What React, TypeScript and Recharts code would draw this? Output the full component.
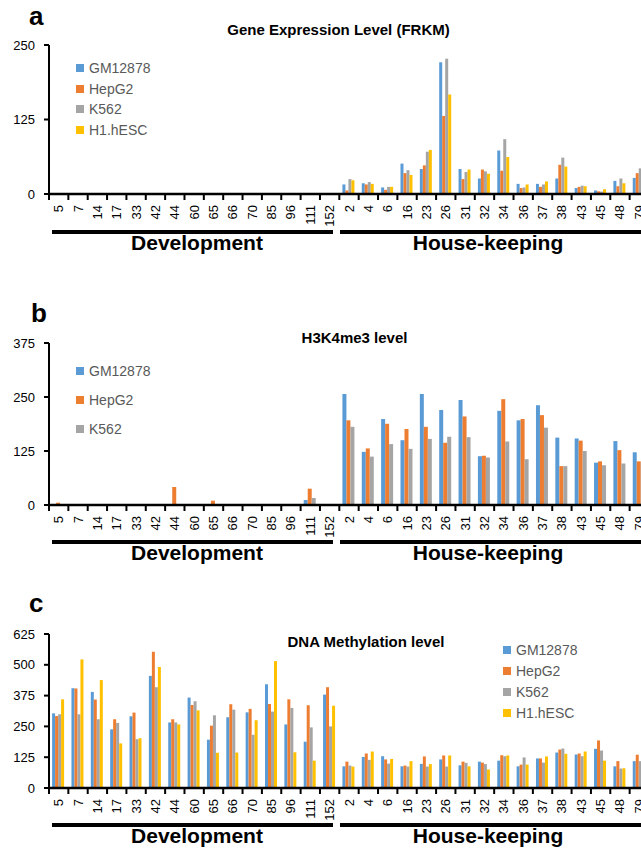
import React from 'react';
import { BarChart, Bar, XAxis, YAxis, Legend } from 'recharts';

// genes: first 15 are development genes, the rest house-keeping
const genes = ['5', '7', '14', '17', '33', '42', '44', '60', '65', '66', '70', '85', '96', '111', '152',
  '2', '4', '6', '16', '23', '26', '31', '32', '34', '36', '37', '38', '43', '45', '48', '79'];

// a: gene expression (FRKM)
const exprGM12878 = [0, 0, 0, 0, 0, 0, 0, 0, 0, 0, 0, 0, 0, 0, 0,
  16, 18, 11, 51, 42, 221, 42, 26, 73, 17, 17, 26, 10, 6, 22, 27];
const exprHepG2 = [0, 0, 0, 0, 0, 0, 0, 0, 0, 0, 0, 0, 0, 0, 0,
  6, 16, 7, 35, 48, 131, 25, 41, 39, 10, 12, 49, 12, 4.5, 13, 35];
const exprK562 = [0, 0, 0, 0, 0, 0, 0, 0, 0, 0, 0, 0, 0, 0, 0,
  25, 20, 12, 40, 71, 227, 37, 38, 92, 11, 16, 61, 14, 4, 26, 43];
const exprH1 = [0, 0, 0, 1, 0, 0, 1.5, 0, 0, 0, 0, 0, 0, 0, 0,
  23, 17, 12, 32, 74, 167, 41, 34, 62, 16, 21, 46, 13, 8, 18, 40];

// b: H3K4me3 level
const h3GM12878 = [0, 0, 0, 0, 0, 0, 0, 0, 0, 0, 0, 0, 0, 11.6, 0,
  257, 123, 199, 150, 257, 220, 243, 113, 218, 196, 231, 156, 154, 98, 148, 122];
const h3HepG2 = [5.4, 0, 0, 0, 0, 0, 41.7, 0, 10, 0, 0, 0, 0, 37.8, 0,
  196, 131, 188, 176, 181, 144, 205, 114, 245, 199, 208, 90, 149, 101, 127, 101];
const h3K562 = [0, 0, 0, 1.5, 0, 0, 0, 0, 0, 0, 0, 0, 0, 16.2, 0,
  181, 112, 141, 130, 153, 158, 157, 110, 147, 106, 179, 90, 125, 92, 96, 99];

// c: DNA methylation level
const methGM12878 = [303, 405, 390, 238, 291, 455, 266, 367, 196, 287, 307, 421, 258, 188, 379,
  88, 126, 129, 88, 98, 116, 92, 107, 111, 88, 120, 144, 136, 159, 88, 109];
const methHepG2 = [292, 404, 359, 279, 306, 553, 279, 337, 253, 340, 321, 341, 360, 336, 409,
  107, 140, 116, 91, 128, 132, 107, 103, 133, 95, 120, 156, 140, 193, 109, 135];
const methK562 = [299, 299, 279, 264, 198, 409, 266, 352, 295, 318, 216, 310, 325, 246, 250,
  91, 114, 99, 87, 87, 87, 102, 97, 129, 124, 103, 160, 129, 152, 79, 109];
const methH1 = [360, 522, 438, 181, 202, 491, 258, 315, 143, 144, 275, 515, 145, 111, 334,
  87, 148, 118, 109, 97, 132, 88, 75, 132, 95, 128, 139, 148, 111, 80, 100];

const exprTicks = [0, 125, 250];
const h3Ticks = [0, 125, 250, 375];
const methTicks = [0, 125, 250, 375, 500, 625];

const COLORS: Record<string, string> = {
  GM12878: '#5B9BD5',
  HepG2: '#ED7D31',
  K562: '#A5A5A5',
  'H1.hESC': '#FFC000',
};

const FONT = '"Liberation Sans", Arial, sans-serif';
const CHART_W = 700;
const Y_W = 49;
const RIGHT = 51;
const X_H = 60;
const BAND = (CHART_W - Y_W - RIGHT) / genes.length;

function toRows(series: Record<string, number[]>) {
  return genes.map((g, i) => {
    const row: any = { gene: g };
    Object.keys(series).forEach((k) => { row[k] = series[k][i]; });
    return row;
  });
}

const exprRows = toRows({ GM12878: exprGM12878, HepG2: exprHepG2, K562: exprK562, 'H1.hESC': exprH1 });
const h3Rows = toRows({ GM12878: h3GM12878, HepG2: h3HepG2, K562: h3K562 });
const methRows = toRows({ GM12878: methGM12878, HepG2: methHepG2, K562: methK562, 'H1.hESC': methH1 });

// category boundary tick + rotated label
const GeneTick = (props: any) => {
  const { x, y, payload } = props;
  const bx = x - BAND / 2;
  return (
    <g>
      <line x1={bx} y1={y} x2={bx} y2={y + 6} stroke="#000" strokeWidth={2} />
      <text x={x} y={y + 11} transform={`rotate(-90, ${x}, ${y + 11})`} textAnchor="end"
        dominantBaseline="central" fontSize={13} fontFamily={FONT} fill="#000">
        {payload.value}
      </text>
    </g>
  );
};

const legendContent = (keys: string[], rowH: number) => (props: any) => {
  const items = [...(props.payload || [])].sort(
    (a: any, b: any) => keys.indexOf(a.value) - keys.indexOf(b.value));
  return (
    <div style={{ fontFamily: FONT, fontSize: 14, color: '#595959' }}>
      {items.map((it: any) => (
        <div key={it.value} style={{ display: 'flex', alignItems: 'center', height: rowH, whiteSpace: 'nowrap' }}>
          <span style={{ display: 'inline-block', width: 8, height: 8, background: it.color, marginRight: 5 }} />
          <span>{it.value}</span>
        </div>
      ))}
    </div>
  );
};

type PanelProps = {
  top: number;
  marginTop: number;
  plotH: number;
  rows: any[];
  keys: string[];
  ticks: number[];
  legendLeft: number;
  legendTop: number;
  rowH: number;
};

const Panel = ({ top, marginTop, plotH, rows, keys, ticks, legendLeft, legendTop, rowH }: PanelProps) => (
  <div style={{ position: 'absolute', left: 0, top }}>
    <BarChart width={CHART_W} height={marginTop + plotH + X_H} data={rows}
      margin={{ top: marginTop, right: RIGHT, bottom: 0, left: 0 }} barCategoryGap="16%" barGap={0}>
      <XAxis dataKey="gene" interval={0} tickSize={0} tickMargin={0} tickLine={false} height={X_H}
        axisLine={{ stroke: '#000', strokeWidth: 2.5 }} tick={(p: any) => <GeneTick {...p} />} />
      <YAxis width={Y_W} domain={[0, ticks[ticks.length - 1]]} ticks={ticks} interval={0}
        tickSize={5} tickMargin={9} axisLine={{ stroke: '#000', strokeWidth: 2 }}
        tickLine={{ stroke: '#000', strokeWidth: 2 }}
        tick={{ fontSize: 13, fill: '#000', fontFamily: FONT }} />
      <Legend layout="vertical" align="center" verticalAlign="middle"
        wrapperStyle={{ left: legendLeft, top: legendTop, width: 'auto', height: 'auto' }}
        content={legendContent(keys, rowH)} />
      {keys.map((k) => (
        <Bar key={k} dataKey={k} fill={COLORS[k]} isAnimationActive={false} />
      ))}
    </BarChart>
  </div>
);

const groupLine = (y: number) => (
  <g>
    <line x1={52} y1={y} x2={333} y2={y} stroke="#000" strokeWidth={4} />
    <line x1={340} y1={y} x2={660} y2={y} stroke="#000" strokeWidth={4} />
    <text x={197} y={y + 18} textAnchor="middle" fontSize={21} fontWeight="bold" fontFamily={FONT}>Development</text>
    <text x={488} y={y + 18} textAnchor="middle" fontSize={21} fontWeight="bold" fontFamily={FONT}>House-keeping</text>
  </g>
);

export default function App() {
  return (
    <div style={{ position: 'absolute', left: 0, top: 0, width: 641, height: 849, overflow: 'hidden', background: '#fff' }}>
      <Panel top={0} marginTop={45} plotH={149} rows={exprRows}
        keys={['GM12878', 'HepG2', 'K562', 'H1.hESC']} ticks={exprTicks}
        legendLeft={76} legendTop={57.5} rowH={20.7} />
      <Panel top={300} marginTop={43} plotH={162} rows={h3Rows}
        keys={['GM12878', 'HepG2', 'K562']} ticks={h3Ticks}
        legendLeft={76} legendTop={56.5} rowH={29} />
      <Panel top={600} marginTop={34} plotH={154} rows={methRows}
        keys={['GM12878', 'HepG2', 'K562', 'H1.hESC']} ticks={methTicks}
        legendLeft={503} legendTop={39.5} rowH={21} />
      <svg width={641} height={849} style={{ position: 'absolute', left: 0, top: 0, pointerEvents: 'none' }}>
        <g fontFamily={FONT} fontWeight="bold" fill="#000">
          <text x={29} y={25} fontSize={26}>a</text>
          <text x={31} y={322} fontSize={26}>b</text>
          <text x={29} y={612} fontSize={26}>c</text>
          <text x={338.5} y={35} fontSize={15} textAnchor="middle">Gene Expression Level (FRKM)</text>
          <text x={354.5} y={343} fontSize={15} textAnchor="middle">H3K4me3 level</text>
          <text x={366} y={647} fontSize={15} textAnchor="middle">DNA Methylation level</text>
        </g>
        {groupLine(232)}
        {groupLine(542)}
        {groupLine(825)}
      </svg>
    </div>
  );
}
